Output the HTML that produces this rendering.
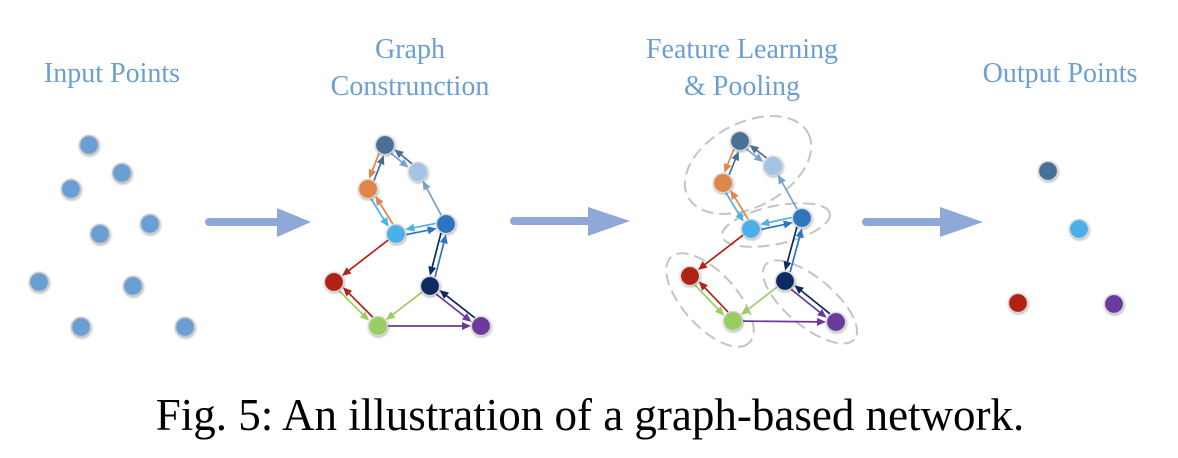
<!DOCTYPE html>
<html><head><meta charset="utf-8">
<style>
html,body{margin:0;padding:0;background:#fff;}
body{width:1178px;height:458px;overflow:hidden;}
svg{display:block}
.lbl{font-family:"Liberation Serif",serif;font-size:28px;fill:#6b9fd4;text-anchor:middle}
.cap{font-family:"Liberation Serif",serif;font-size:45px;fill:#000;text-anchor:middle}
</style></head>
<body>
<svg id="s" width="1178" height="458" viewBox="0 0 1178 458" xmlns="http://www.w3.org/2000/svg">
<defs>
<filter id="sh" x="-50%" y="-50%" width="200%" height="200%"><feDropShadow dx="0.5" dy="1" stdDeviation="1.2" flood-color="#000" flood-opacity="0.35"/></filter>
</defs>
<text class="lbl" x="112" y="82">Input Points</text>
<text class="lbl" x="410" y="58">Graph</text>
<text class="lbl" x="410" y="95">Construnction</text>
<text class="lbl" x="742" y="58">Feature Learning</text>
<text class="lbl" x="742" y="95">&amp; Pooling</text>
<text class="lbl" x="1060" y="82">Output Points</text>
<g fill="#8fa8d8" stroke="#8fa8d8">
<line x1="209" y1="222" x2="280" y2="222" stroke-width="8" stroke-linecap="round"/>
<polygon points="277,208 311,222 277,237" stroke="none"/>
<line x1="514" y1="221" x2="590" y2="221" stroke-width="8" stroke-linecap="round"/>
<polygon points="588,207 630,221 588,236" stroke="none"/>
<line x1="866" y1="222" x2="942" y2="222" stroke-width="8" stroke-linecap="round"/>
<polygon points="940,207 983,222 940,237" stroke="none"/>
</g>
<g fill="none" stroke="#c4c4c4" stroke-width="2" stroke-dasharray="12,6">
<ellipse cx="748" cy="165" rx="68" ry="42" transform="rotate(-28 748 165)"/>
<ellipse cx="776" cy="225" rx="55" ry="19" transform="rotate(-12 776 225)"/>
<ellipse cx="710" cy="300" rx="58" ry="27" transform="rotate(48 710 300)"/>
<ellipse cx="810" cy="302" rx="58" ry="24" transform="rotate(40 810 302)"/>
</g>
<g id="edges"></g>
<g id="nodes"></g>
<text class="cap" x="590" y="430">Fig. 5: An illustration of a graph-based network.</text>
</svg>
<script>
var NS="http://www.w3.org/2000/svg";
var C={t:"#4a6f96",l:"#a3c4e4",o:"#e0864a",s:"#4cb0ea",b:"#2e74c0",r:"#b02419",n:"#0e2a63",g:"#9acd60",p:"#6a3a9a"};
var EC={t:"#4a6f96",l:"#7aa0cc",o:"#e0864a",s:"#4cb0ea",b:"#2e74c0",r:"#b02419",n:"#0e2a63",g:"#9acd60",p:"#6a3a9a"};
var G2={t:[385,145],l:[418,172],o:[368,189],s:[396,234],b:[446,224],r:[334,282],n:[430,286],g:[378,326],p:[481,326]};
var G3={t:[740,141],l:[773,166],o:[723,183],s:[751,229],b:[802,218],r:[690,276],n:[785,281],g:[733,321],p:[836,322]};
var E=[["t","o"],["o","t"],["t","l"],["l","t"],["b","l"],["o","s"],["s","o"],["s","b"],["b","s"],["s","r"],["b","n"],["n","b"],["r","g"],["g","r"],["n","g"],["g","p"],["n","p"],["p","n"]];
var bi={};E.forEach(function(e){bi[e[0]+e[1]]=1;});
var eg=document.getElementById("edges"),ng=document.getElementById("nodes");
function el(t,a,p){var e=document.createElementNS(NS,t);for(var k in a)e.setAttribute(k,a[k]);p.appendChild(e);return e;}
function graph(P){
E.forEach(function(e){
var a=P[e[0]],b=P[e[1]];var dx=b[0]-a[0],dy=b[1]-a[1],L=Math.hypot(dx,dy),ux=dx/L,uy=dy/L;
var off=bi[e[1]+e[0]]?2.6:0;var nx=-uy*off,ny=ux*off;
var x1=a[0]+ux*10+nx,y1=a[1]+uy*10+ny,x2=b[0]-ux*10+nx,y2=b[1]-uy*10+ny;
var c=EC[e[1]];
el("line",{x1:x1,y1:y1,x2:x2-ux*6,y2:y2-uy*6,stroke:c,"stroke-width":1.7},eg);
var hx=x2-ux*9,hy=y2-uy*9;
el("polygon",{points:x2+","+y2+" "+(hx-uy*4)+","+(hy+ux*4)+" "+(hx+uy*4)+","+(hy-ux*4),fill:c},eg);
});
for(var k in P)el("circle",{cx:P[k][0],cy:P[k][1],r:9.5,fill:C[k],stroke:"#d8d8d8","stroke-width":1.2,filter:"url(#sh)"},ng);
}
graph(G2);graph(G3);
[[89,145],[122,173],[71,189],[100,234],[150,224],[39,282],[133,286],[81,327],[185,327]].forEach(function(p){
el("circle",{cx:p[0],cy:p[1],r:9.5,fill:"#6a9fd4",stroke:"#c8c8c8","stroke-width":1.4,filter:"url(#sh)"},ng);});
[[1048,171,"t"],[1079,229,"s"],[1018,303,"r"],[1114,304,"p"]].forEach(function(p){
el("circle",{cx:p[0],cy:p[1],r:9.5,fill:C[p[2]],stroke:"#d8d8d8","stroke-width":1.2,filter:"url(#sh)"},ng);});
</script>
</body></html>
